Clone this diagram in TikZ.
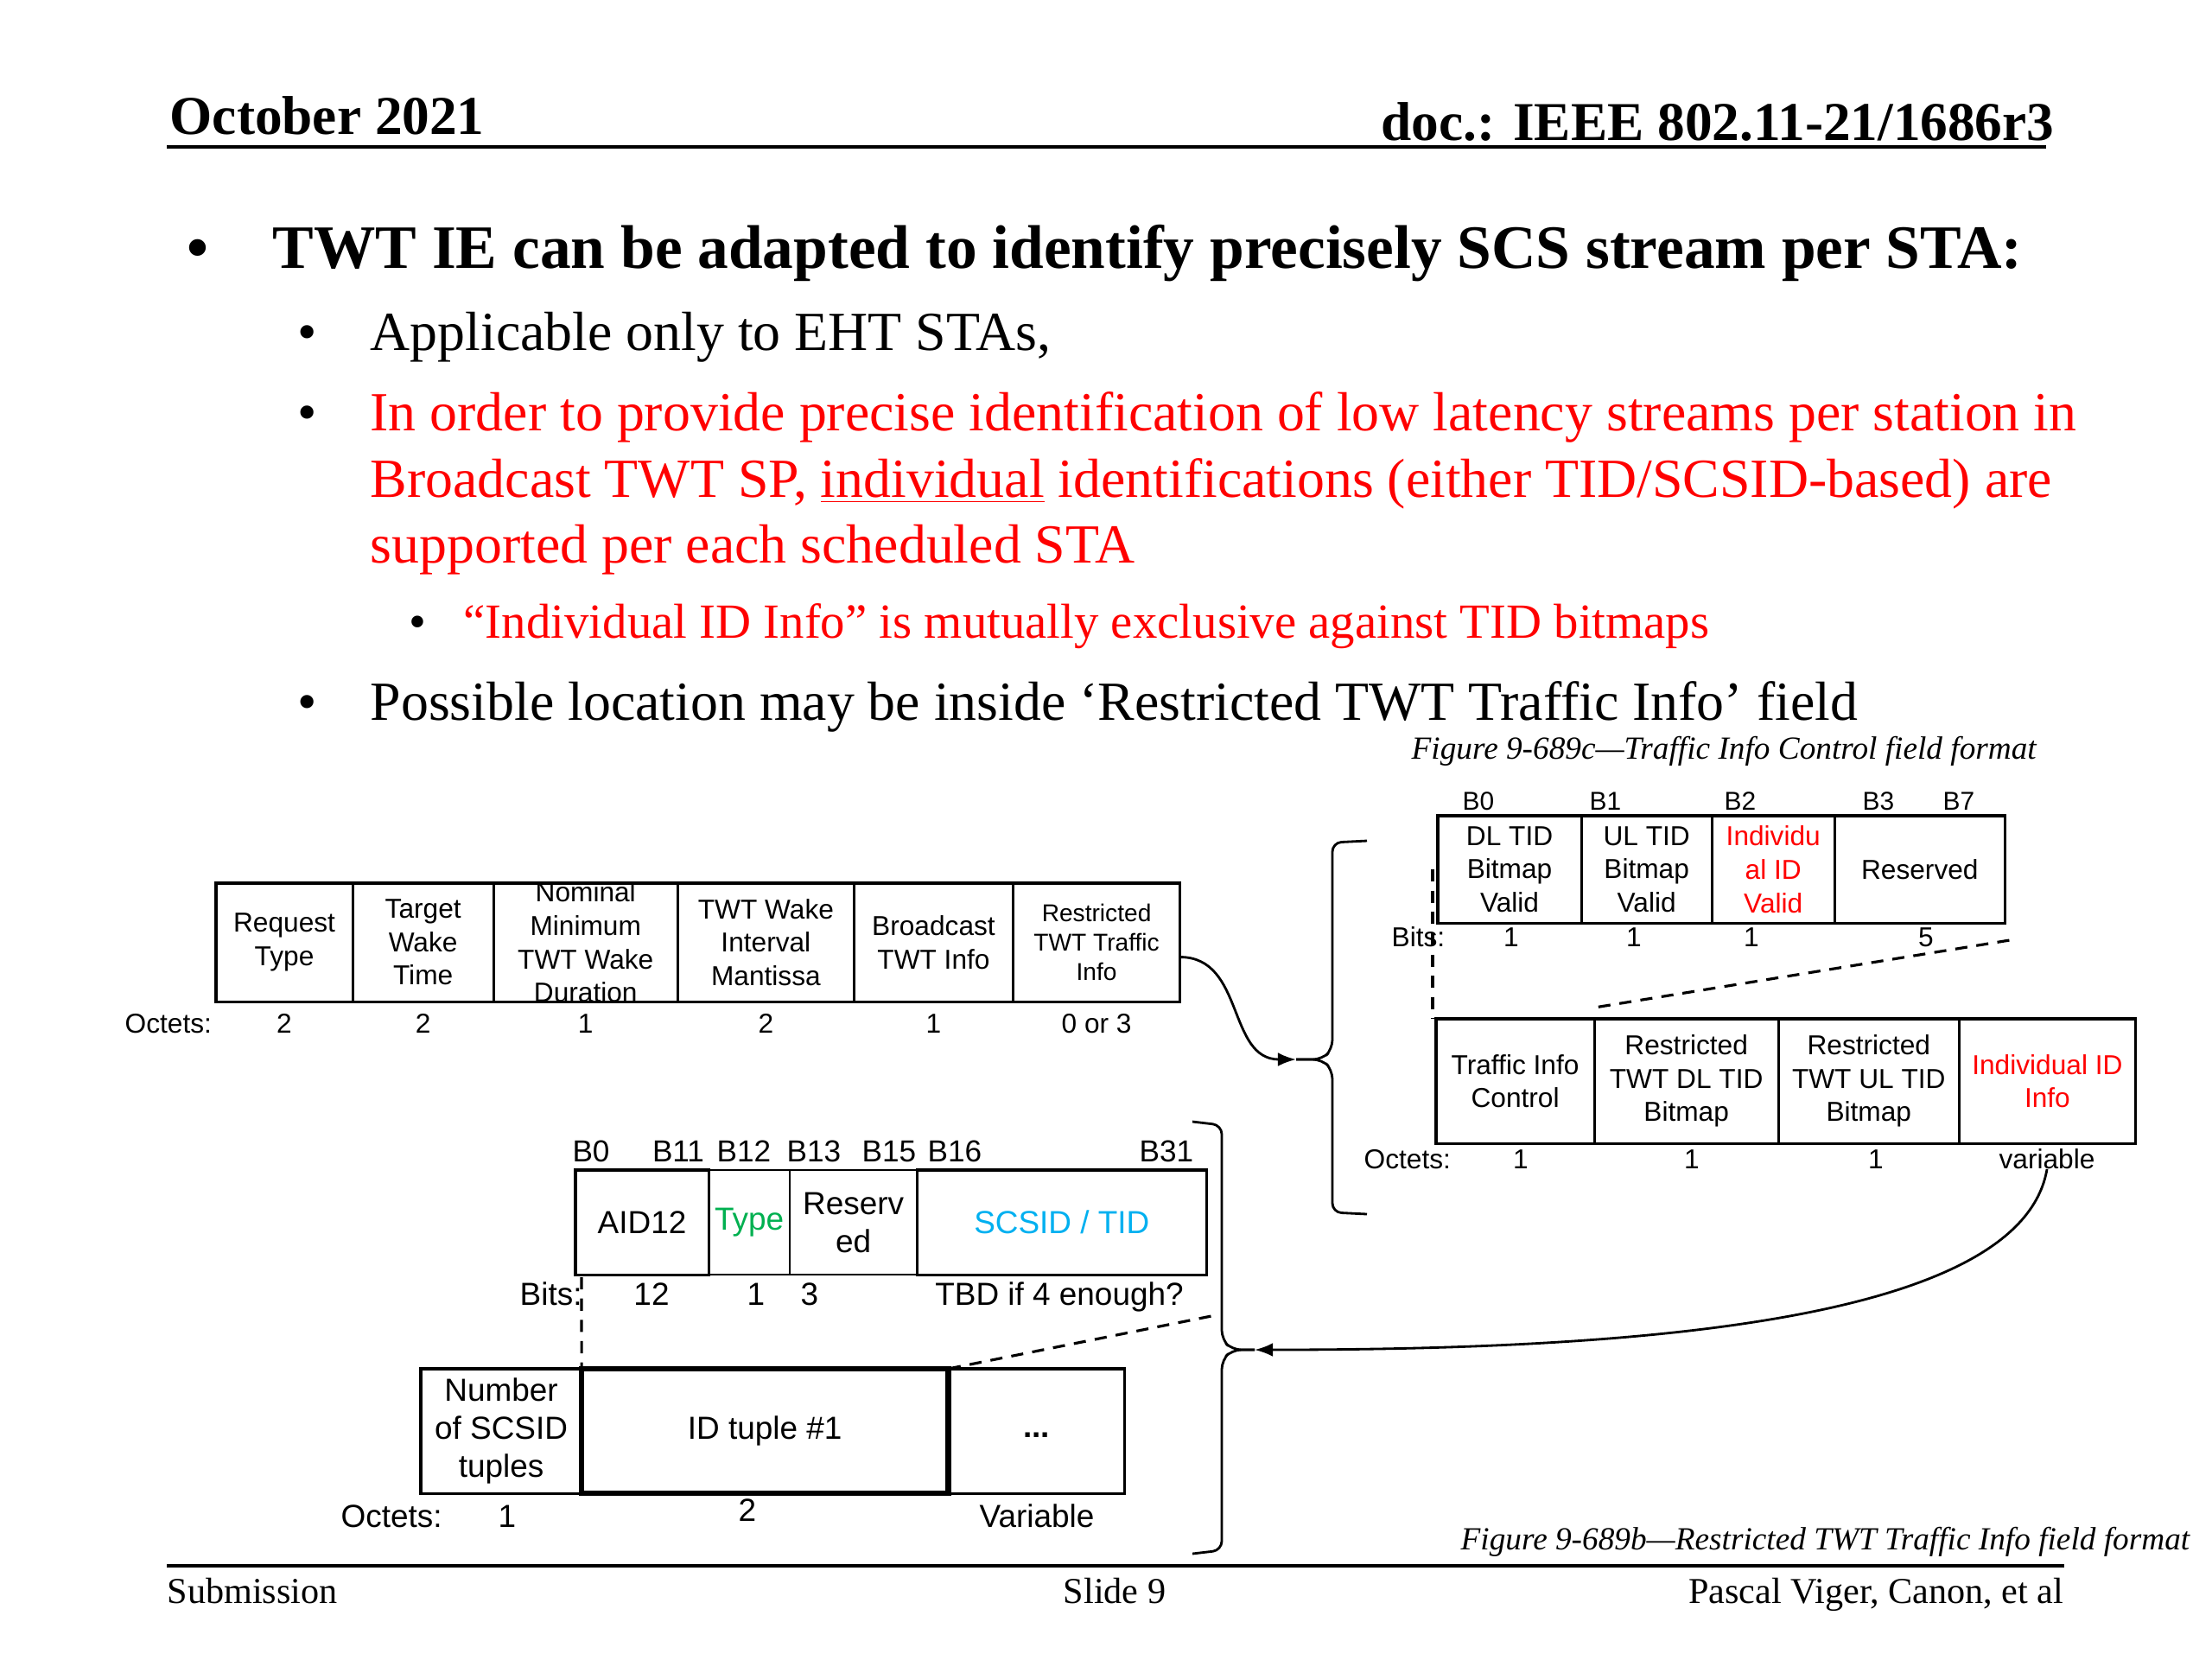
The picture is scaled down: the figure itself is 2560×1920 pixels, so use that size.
\documentclass[tikz,border=0pt]{standalone}
\usepackage{fontspec}
\setmainfont{Liberation Serif}
\setsansfont{Liberation Sans}
\usetikzlibrary{arrows.meta,positioning,calc}

\definecolor{slideRed}{RGB}{255,0,0}
\definecolor{typeGreen}{RGB}{0,176,80}
\definecolor{idBlue}{RGB}{0,176,240}

\tikzstyle{field}    =[draw,line width=0.9pt,outer sep=0pt,inner sep=0pt,align=center,font=\sffamily\fontsize{9}{11}\selectfont]
\tikzstyle{wfield}   =[field,font=\sffamily\fontsize{10.5}{12.5}\selectfont]
\tikzstyle{sizelbl}  =[anchor=base,inner sep=0pt,font=\sffamily\fontsize{9}{11}\selectfont]
\tikzstyle{wsizelbl} =[sizelbl,font=\sffamily\fontsize{10.5}{12.5}\selectfont]
\tikzstyle{bitlbl}   =[anchor=base,inner sep=0pt,font=\sffamily\fontsize{8.5}{10}\selectfont]
\tikzstyle{wbitlbl}  =[anchor=base,inner sep=0pt,font=\sffamily\fontsize{10}{12}\selectfont]
\tikzstyle{zoomline} =[line width=0.9pt,dash pattern=on 4pt off 3pt]
\tikzstyle{bracket}  =[line width=0.8pt,rounded corners=3pt]
\tikzstyle{connector}=[line width=0.8pt,-{Latex[length=6pt,width=4.5pt]}]
\tikzstyle{caption}  =[anchor=base west,inner sep=0pt,font=\itshape\fontsize{10.6}{12}\selectfont]
\tikzstyle{bodytext} =[anchor=base west,inner sep=0pt,font=\fontsize{18.15}{21.8}\selectfont]
\tikzstyle{bulletpt} =[anchor=base,inner sep=0pt,font=\fontsize{18.15}{21.8}\selectfont]

\begin{document}
\begin{tikzpicture}[x=0.01cm,y=-0.01cm]
\useasboundingbox (0,0) rectangle (2560,1920);
\fill[white] (0,0) rectangle (2560,1920);

% header / footer
\node[anchor=base west,inner sep=0pt,font=\bfseries\fontsize{18}{21}\selectfont] (hdrDate) at (196,155) {October 2021};
\node[anchor=base east,inner sep=0pt,font=\bfseries\fontsize{18}{21}\selectfont] (hdrDoc) at (2378,162) {doc.: IEEE 802.11-21/1686r3};
\draw[line width=1.2pt] (193,170) -- (2368,170);
\draw[line width=1pt] (193,1812) -- (2389,1812);
\node[anchor=base west,inner sep=0pt,font=\fontsize{12}{14}\selectfont] (ftSub) at (193,1855) {Submission};
\node[anchor=base,inner sep=0pt,font=\fontsize{12}{14}\selectfont] (ftSlide) at (1290,1855) {Slide 9};
\node[anchor=base east,inner sep=0pt,font=\fontsize{12}{14}\selectfont] (ftAuth) at (2389,1855) {Pascal Viger, Canon, et al};

% bullets
\node[bulletpt,font=\bfseries\fontsize{20.3}{24}\selectfont] (bulTitle) at (229,310) {\textbullet};
\node[bodytext,font=\bfseries\fontsize{20.3}{24}\selectfont] (title) at (315,310) {TWT IE can be adapted to identify precisely SCS stream per STA:};
\node[bulletpt] (bulEht) at (356,405) {\textbullet};
\node[bodytext] (ehtOnly) at (428,405) {Applicable only to EHT STAs,};
\node[bulletpt] (bulOrder) at (356,498) {\textbullet};
\node[bodytext,text=slideRed] (orderA) at (428,498) {In order to provide precise identification of low latency streams per station in};
\node[bodytext,text=slideRed] (orderB) at (428,575) {Broadcast TWT SP, \underline{individual} identifications (either TID/SCSID-based) are};
\node[bodytext,text=slideRed] (orderC) at (428,651) {supported per each scheduled STA};
\node[bulletpt,font=\fontsize{16.15}{19}\selectfont] (bulExcl) at (483,738) {\textbullet};
\node[bodytext,font=\fontsize{16.15}{19}\selectfont,text=slideRed] (exclusive) at (536,738) {“Individual ID Info” is mutually exclusive against TID bitmaps};
\node[bulletpt] (bulLoc) at (356,833) {\textbullet};
\node[bodytext] (location) at (428,833) {Possible location may be inside ‘Restricted TWT Traffic Info’ field};

% TWT element fields
\node[field,anchor=north west,minimum width=1.58cm,minimum height=1.37cm] (reqType) at (250,1022) {Request\\Type};
\node[field,right=0pt of reqType,minimum width=1.63cm,minimum height=1.37cm] (tgtWake) {Target\\Wake\\Time};
\node[field,right=0pt of tgtWake,minimum width=2.13cm,minimum height=1.37cm] (nomDur) {};
\node[align=center,inner sep=0pt,font=\sffamily\fontsize{9}{11}\selectfont] (nomDurTxt) at (nomDur.center) {Nominal\\Minimum\\TWT Wake\\Duration};
\node[field,right=0pt of nomDur,minimum width=2.04cm,minimum height=1.37cm] (wakeMant) {TWT Wake\\Interval\\Mantissa};
\node[field,right=0pt of wakeMant,minimum width=1.84cm,minimum height=1.37cm] (bcastInfo) {Broadcast\\TWT Info};
\node[field,right=0pt of bcastInfo,minimum width=1.93cm,minimum height=1.37cm,font=\sffamily\fontsize{8}{9.7}\selectfont] (rTrafInfo) {Restricted\\TWT Traffic\\Info};
\coordinate (twtOct) at (0,1195);
\node[sizelbl,anchor=base west] (twtOctLbl) at (144,1195) {Octets:};
\node[sizelbl] (octReq) at (reqType.south |- twtOct) {2};
\node[sizelbl] (octTgt) at (tgtWake.south |- twtOct) {2};
\node[sizelbl] (octNom) at (nomDur.south |- twtOct) {1};
\node[sizelbl] (octMant) at (wakeMant.south |- twtOct) {2};
\node[sizelbl] (octBcast) at (bcastInfo.south |- twtOct) {1};
\node[sizelbl] (octRtti) at (rTrafInfo.south |- twtOct) {0 or 3};

% Traffic Info Control
\node[caption] (capTic) at (1633,878) {Figure 9-689c—Traffic Info Control field format};
\node[field,anchor=north west,minimum width=1.66cm,minimum height=1.24cm] (dlValid) at (1664,944) {DL TID\\Bitmap\\Valid};
\node[field,right=0pt of dlValid,minimum width=1.51cm,minimum height=1.24cm] (ulValid) {UL TID\\Bitmap\\Valid};
\node[field,right=0pt of ulValid,minimum width=1.42cm,minimum height=1.24cm,text=slideRed] (idValid) {Individu\\al ID\\Valid};
\node[field,right=0pt of idValid,minimum width=1.97cm,minimum height=1.24cm] (resvBits) {Reserved};
\node[bitlbl] (tcB0) at (1711,937) {B0};
\node[bitlbl] (tcB1) at (1858,937) {B1};
\node[bitlbl] (tcB2) at (2014,937) {B2};
\node[bitlbl] (tcB3) at (2174,937) {B3};
\node[bitlbl] (tcB7) at (2267,937) {B7};
\node[sizelbl,anchor=base west] (tcBits) at (1610,1095) {Bits:};
\node[sizelbl] (tcBitA) at (1749,1095) {1};
\node[sizelbl] (tcBitB) at (1891,1095) {1};
\node[sizelbl] (tcBitC) at (2027,1095) {1};
\node[sizelbl] (tcBitD) at (2229,1095) {5};

% Restricted TWT Traffic Info
\node[field,anchor=north west,minimum width=1.83cm,minimum height=1.44cm] (tiCtrl) at (1662,1179) {Traffic Info\\Control};
\node[field,right=0pt of tiCtrl,minimum width=2.13cm,minimum height=1.44cm] (dlBitmap) {Restricted\\TWT DL TID\\Bitmap};
\node[field,right=0pt of dlBitmap,minimum width=2.09cm,minimum height=1.44cm] (ulBitmap) {Restricted\\TWT UL TID\\Bitmap};
\node[field,right=0pt of ulBitmap,minimum width=2.04cm,minimum height=1.44cm,text=slideRed] (indivInfo) {Individual ID\\Info};
\node[sizelbl,anchor=base west] (rtOctLbl) at (1578,1352) {Octets:};
\node[sizelbl] (rtOctA) at (1760,1352) {1};
\node[sizelbl] (rtOctB) at (1958,1352) {1};
\node[sizelbl] (rtOctC) at (2171,1352) {1};
\node[sizelbl] (varLbl) at (2369,1352) {variable};

% ID tuple
\node[wfield,anchor=north west,minimum width=1.54cm,minimum height=1.21cm] (aid) at (666,1354) {AID12};
\node[wfield,right=0pt of aid,minimum width=0.94cm,minimum height=1.21cm,text=typeGreen,line width=0.6pt] (typeF) {Type};
\node[wfield,right=0pt of typeF,minimum width=1.47cm,minimum height=1.21cm,line width=0.6pt] (resvF) {Reserv\\ed};
\node[wfield,right=0pt of resvF,minimum width=3.35cm,minimum height=1.21cm,text=idBlue] (scsidF) {SCSID / TID};
\node[wbitlbl] (idB0) at (684,1344) {B0};
\node[wbitlbl] (idB11) at (785,1344) {B11};
\node[wbitlbl] (idB12) at (861,1344) {B12};
\node[wbitlbl] (idB13) at (942,1344) {B13};
\node[wbitlbl] (idB15) at (1029,1344) {B15};
\node[wbitlbl] (idB16) at (1105,1344) {B16};
\node[wbitlbl] (idB31) at (1350,1344) {B31};
\node[wsizelbl,anchor=base west] (idBits) at (601,1510) {Bits:};
\node[wsizelbl] (idBitA) at (754,1510) {12};
\node[wsizelbl] (idBitB) at (875,1510) {1};
\node[wsizelbl] (idBitC) at (937,1510) {3};
\node[wsizelbl] (idBitD) at (1226,1510) {TBD if 4 enough?};

% Individual ID Info
\node[wfield,anchor=north west,minimum width=1.86cm,minimum height=1.44cm] (numTup) at (487,1584) {Number\\of SCSID\\tuples};
\node[wfield,right=0pt of numTup,minimum width=4.24cm,minimum height=1.44cm,line width=1.8pt] (idTuple) {ID tuple \#1};
\node[wfield,right=0pt of idTuple,minimum width=2.04cm,minimum height=1.44cm,font=\sffamily\bfseries\fontsize{10.5}{12.5}\selectfont,yshift=0pt] (moreTup) {\raisebox{-4pt}{...}};
\node[wsizelbl,anchor=base west] (iiOctLbl) at (394,1767) {Octets:};
\node[wsizelbl] (iiOctA) at (587,1767) {1};
\node[wsizelbl] (iiOctB) at (865,1760) {2};
\node[wsizelbl] (iiOctC) at (1200,1767) {Variable};
\node[caption] (capRtti) at (1690,1793) {Figure 9-689b—Restricted TWT Traffic Info field format};

% zoom lines
\draw[zoomline] ($(dlValid.west)+(-6,0)$) -- ($(tiCtrl.north west)+(-4,0)$);
\draw[zoomline] ($(resvBits.south east)+(5,20)$) -- ($(tiCtrl.north east)+(0,-13)$);
\draw[zoomline] ($(aid.south west)+(7,3)$) -- (idTuple.north west);
\draw[zoomline] ($(scsidF.south east)+(5,48)$) -- (idTuple.north east);

% braces and arrows
\coordinate (brOneTip) at (1500,1226);
\coordinate (brTwoTip) at (1452,1562);
\draw[bracket] (1582,973) -- (1542,975) -- (1542,1214) -- (1530,1226) -- (brOneTip);
\draw[bracket] (brOneTip) -- (1530,1226) -- (1542,1238) -- (1542,1403) -- (1582,1405);
\draw[bracket] (1380,1298) -- (1414,1302) -- (1414,1550) -- (1426,1562) -- (brTwoTip);
\draw[bracket] (brTwoTip) -- (1426,1562) -- (1414,1574) -- (1414,1794) -- (1380,1798);
\draw[connector] ($(rTrafInfo.east)+(0,17)$) .. controls +(75,0) and +(-80,0) .. (brOneTip);
\draw[connector] (varLbl.south) .. controls +(-30,175) and +(450,0) .. (brTwoTip);
\end{tikzpicture}
\end{document}
